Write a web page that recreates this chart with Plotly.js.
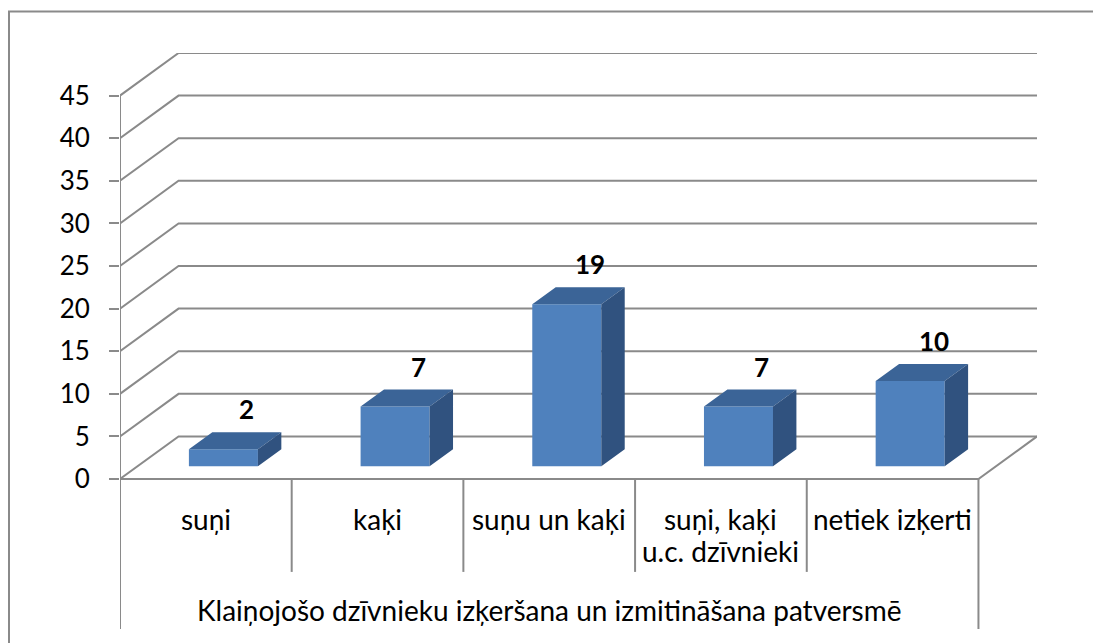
<!DOCTYPE html>
<html>
<head>
<meta charset="utf-8">
<script src="https://cdn.plot.ly/plotly-3.0.1.min.js"></script>
<style>
html,body{margin:0;padding:0;background:#fff;}
#chart{width:1093px;height:643px;}
</style>
</head>
<body>
<div id="chart"></div>
<script>
// ---- data ----
const categories = ['suņi', 'kaķi', 'suņu un kaķi', 'suņi, kaķi<br>u.c. dzīvnieki', 'netiek izķerti'];
const values = [2, 7, 19, 7, 10];
const yTicks = [0, 5, 10, 15, 20, 25, 30, 35, 40, 45];
const axisTitle = 'Klaiņojošo dzīvnieku izķeršana un izmitināšana patversmē';

// ---- 3D look (in axis units) ----
const DX = 0.341, DY = 5.0;      // wall depth offset
const F0 = 0.3, F1 = 0.7;        // bar depth position (fraction of wall depth)
const BW = 0.402;                // bar width
const FONT = 'Lato, "Open Sans", sans-serif';
const GRID = '#8a8a8a';
const n = categories.length;
const xL = -0.5, xR = n - 0.5;

// gridlines
const gx = [], gy = [];
yTicks.forEach(t => {
  gx.push(xL, xL + DX, xR + DX, null);
  gy.push(t, t + DY, t + DY, null);
});
// floor front + right edge, y axis line
const fx = [xL, xR, xR + DX, null, xL, xL];
const fy = [0, 0, DY, null, 0, yTicks[yTicks.length - 1]];
// table lines under the floor
const tx = [], ty = [];
for (let k = 0; k <= n; k++) {
  tx.push(xL + k, xL + k, null);
  ty.push(0, (k === 0 || k === n) ? -17.6 : -10.9, null);
}

// bar faces
const dX = (F1 - F0) * DX, dY = (F1 - F0) * DY;
const frX = [], frY = [], topX = [], topY = [], sideX = [], sideY = [];
values.forEach((v, i) => {
  const xl = i + F0 * DX - BW / 2, xr = i + F0 * DX + BW / 2;
  const yb = F0 * DY, yt = F0 * DY + v;
  frX.push(xl, xr, xr, xl, xl, null);
  frY.push(yb, yb, yt, yt, yb, null);
  topX.push(xl, xr, xr + dX, xl + dX, xl, null);
  topY.push(yt, yt, yt + dY, yt + dY, yt, null);
  sideX.push(xr, xr, xr + dX, xr + dX, xr, null);
  sideY.push(yb, yt, yt + dY, yb + dY, yb, null);
});

const common = {mode: 'lines', hoverinfo: 'skip', showlegend: false};
const traces = [
  Object.assign({x: gx, y: gy, line: {color: GRID, width: 2}}, common),
  Object.assign({x: fx, y: fy, line: {color: GRID, width: 2}}, common),
  Object.assign({x: tx, y: ty, line: {color: GRID, width: 2}}, common),
  Object.assign({x: frX, y: frY, fill: 'toself', fillcolor: '#4F81BD', line: {width: 0, color: '#4F81BD'}}, common),
  Object.assign({x: topX, y: topY, fill: 'toself', fillcolor: '#3B6497', line: {width: 0, color: '#3B6497'}}, common),
  Object.assign({x: sideX, y: sideY, fill: 'toself', fillcolor: '#30527F', line: {width: 0, color: '#30527F'}}, common)
];

const annotations = [];
categories.forEach((c, i) => {
  c.split('<br>').forEach((line, j) => {
    annotations.push({x: i, y: -4.65 - j * 3.76, xref: 'x', yref: 'y', text: line, showarrow: false,
      yanchor: 'middle', xanchor: 'center', font: {family: FONT, size: 28, color: '#000'}});
  });
});
values.forEach((v, i) => {
  annotations.push({x: i + F1 * DX, y: v + F1 * DY, xref: 'x', yref: 'y', text: '<b>' + v + '</b>',
    showarrow: false, yanchor: 'bottom', xanchor: 'center', yshift: 5,
    font: {family: FONT, size: 26, color: '#000'}});
});
annotations.push({x: (xL + xR) / 2, y: -15.35, xref: 'x', yref: 'y', text: axisTitle, showarrow: false,
  xanchor: 'center', yanchor: 'middle', font: {family: FONT, size: 28, color: '#000'}});

const layout = {
  width: 1093, height: 643,
  margin: {l: 120, r: 56, t: 53, b: 14},
  paper_bgcolor: '#fff', plot_bgcolor: 'rgba(0,0,0,0)',
  showlegend: false,
  xaxis: {range: [xL, xR + DX], showgrid: false, zeroline: false, showticklabels: false, ticks: '', showline: false, fixedrange: true},
  yaxis: {range: [-17.6, 50.0], tickvals: yTicks, ticktext: yTicks.map(String), ticks: 'outside', ticklen: 10,
    tickwidth: 2, tickcolor: GRID, showgrid: false, zeroline: false, showline: false, ticklabelstandoff: 14,
    tickfont: {family: FONT, size: 26, color: '#000'}, fixedrange: true},
  annotations: annotations,
  shapes: [{type: 'rect', xref: 'paper', yref: 'paper', x0: (9 - 120) / 917, x1: (1110 - 120) / 917,
    y0: (590 - 660) / 576, y1: (590 - 12.5 + 40) / 576, line: {color: GRID, width: 2}, layer: 'below'}]
};

Plotly.newPlot('chart', traces, layout, {displayModeBar: false, staticPlot: true});
</script>
</body>
</html>
